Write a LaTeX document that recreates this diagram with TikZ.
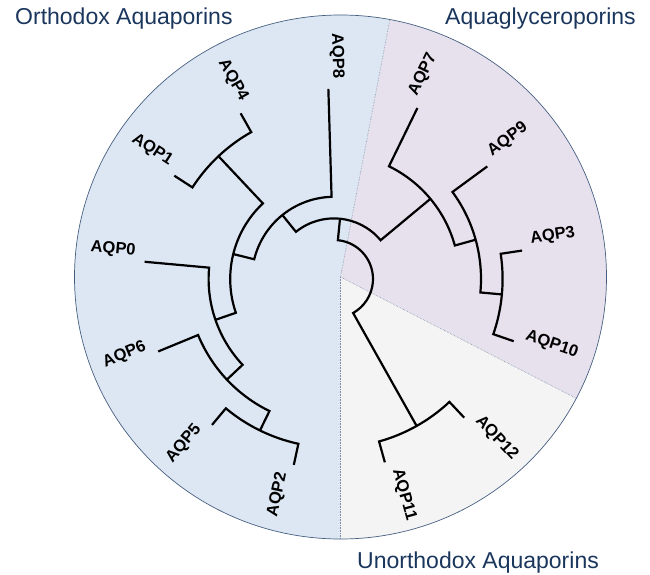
\documentclass[tikz,border=0pt]{standalone}
\usepackage{fontspec}
\setmainfont{Liberation Sans}
\usepackage{tikz}
\usetikzlibrary{positioning}

\definecolor{orthofill}{RGB}{221,231,243}
\definecolor{glycerofill}{RGB}{231,225,238}
\definecolor{unorthofill}{RGB}{244,244,244}
\definecolor{rimblue}{RGB}{70,95,128}
\definecolor{titleblue}{RGB}{27,54,93}

\begin{document}
\begin{tikzpicture}[
    x=1pt, y=1pt,
    branch/.style={line width=2.2pt, black},
    leaflabel/.style={font=\fontsize{16.5pt}{20pt}\selectfont\bfseries, inner sep=2pt},
    grouptitle/.style={font=\fontsize{23pt}{27pt}\selectfont, text=titleblue, inner sep=0pt, anchor=base west},
    divider/.style={densely dotted, line width=0.6pt, rimblue!70}
]
\useasboundingbox (0,0) rectangle (650,-575);
\coordinate (centre) at (340.5,-277);
\coordinate (root) at (334,-279);

% background wheel
\begin{scope}[shift={(centre)}]
\fill[orthofill] (0,0) -- (79.3:266pt and 262pt) arc[start angle=79.3, end angle=270, x radius=266pt, y radius=262pt] -- cycle;
\fill[glycerofill] (0,0) -- (-27.6:266pt and 262pt) arc[start angle=-27.6, end angle=79.3, x radius=266pt, y radius=262pt] -- cycle;
\fill[unorthofill] (0,0) -- (-90:266pt and 262pt) arc[start angle=-90, end angle=-27.6, x radius=266pt, y radius=262pt] -- cycle;
\draw[divider] (0,0) -- (79.3:266pt and 262pt);
\draw[divider] (0,0) -- (-27.6:266pt and 262pt);
\draw[divider] (0,0) -- (-90:266pt and 262pt);
\draw[rimblue, line width=0.7pt] (0,0) ellipse[x radius=266pt, y radius=262pt];
\end{scope}

% tree
\begin{scope}[shift={(root)}]
\draw[branch] (84.3:60.6pt) -- (84.3:39pt) arc[start angle=84.3, end angle=-60.65, radius=39pt] -- (-60.65:168.6pt);
\draw[branch] (128.9:82.2pt) -- (128.9:60.6pt) arc[start angle=128.9, end angle=39.75, radius=60.6pt] -- (39.75:125.4pt);
\draw[branch] (91.7:190.2pt) -- (91.7:82.2pt) arc[start angle=91.7, end angle=166.1, radius=82.2pt] -- (166.1:103.8pt);
\draw[branch] (133.25:168.6pt) -- (133.25:103.8pt) arc[start angle=133.25, end angle=199, radius=103.8pt] -- (199:125.4pt);
\draw[branch] (119.4:190.2pt) -- (119.4:168.6pt) arc[start angle=119.4, end angle=147.1, radius=168.6pt] -- (147.1:190.2pt);
\draw[branch] (174.8:190.2pt) -- (174.8:125.4pt) arc[start angle=174.8, end angle=223.2, radius=125.4pt] -- (223.2:147pt);
\draw[branch] (202.4:190.2pt) -- (202.4:147pt) arc[start angle=202.4, end angle=243.95, radius=147pt] -- (243.95:168.6pt);
\draw[branch] (230.1:190.2pt) -- (230.1:168.6pt) arc[start angle=230.1, end angle=257.8, radius=168.6pt] -- (257.8:190.2pt);
\draw[branch] (64:190.2pt) -- (64:125.4pt) arc[start angle=64, end angle=15.5, radius=125.4pt] -- (15.5:147pt);
\draw[branch] (36.3:190.2pt) -- (36.3:147pt) arc[start angle=36.3, end angle=-5.25, radius=147pt] -- (-5.25:168.6pt);
\draw[branch] (8.6:190.2pt) -- (8.6:168.6pt) arc[start angle=8.6, end angle=-19.1, radius=168.6pt] -- (-19.1:190.2pt);
\draw[branch] (-46.8:190.2pt) -- (-46.8:168.6pt) arc[start angle=-46.8, end angle=-74.5, radius=168.6pt] -- (-74.5:190.2pt);

% leaf names
\node[leaflabel, anchor=south west, rotate=8.6] (aqp3) at (8.6:198pt) {AQP3};
\node[leaflabel, anchor=south west, rotate=36.3] (aqp9) at (36.3:198pt) {AQP9};
\node[leaflabel, anchor=south west, rotate=64] (aqp7) at (64:198pt) {AQP7};
\node[leaflabel, anchor=south east, rotate=271.7] (aqp8) at (91.7:198pt) {AQP8};
\node[leaflabel, anchor=south east, rotate=299.4] (aqp4) at (119.4:198pt) {AQP4};
\node[leaflabel, anchor=south east, rotate=327.1] (aqp1) at (147.1:198pt) {AQP1};
\node[leaflabel, anchor=south east, rotate=354.8] (aqp0) at (174.8:198pt) {AQP0};
\node[leaflabel, anchor=south east, rotate=22.4] (aqp6) at (202.4:198pt) {AQP6};
\node[leaflabel, anchor=south east, rotate=50.1] (aqp5) at (230.1:198pt) {AQP5};
\node[leaflabel, anchor=south east, rotate=77.8] (aqp2) at (257.8:198pt) {AQP2};
\node[leaflabel, anchor=south west, rotate=-74.5] (aqp11) at (-74.5:198pt) {AQP11};
\node[leaflabel, anchor=south west, rotate=-46.8] (aqp12) at (-46.8:198pt) {AQP12};
\node[leaflabel, anchor=south west, rotate=-19.1] (aqp10) at (-19.1:198pt) {AQP10};
\end{scope}

% group names
\node[grouptitle] (orthodox) at (15,-25) {Orthodox Aquaporins};
\node[grouptitle] (glycero) at (445,-25) {Aquaglyceroporins};
\node[grouptitle] (unorthodox) at (357,-568) {Unorthodox Aquaporins};
\end{tikzpicture}
\end{document}
